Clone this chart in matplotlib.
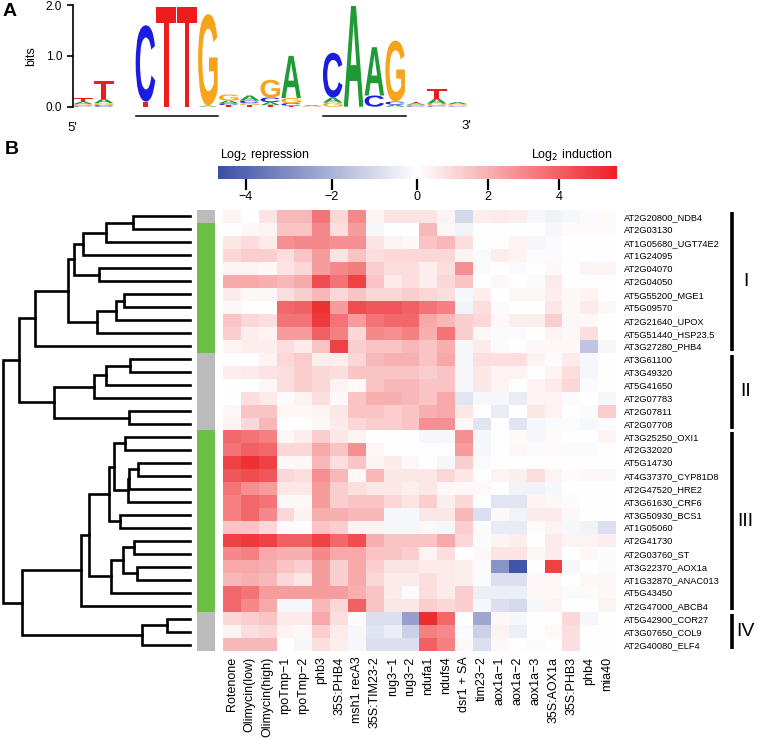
import numpy as np
import matplotlib
matplotlib.use("Agg")
import matplotlib.pyplot as plt
import matplotlib.transforms as mtrans
from matplotlib.colors import LinearSegmentedColormap, TwoSlopeNorm
from matplotlib.textpath import TextPath
from matplotlib.patches import PathPatch
from matplotlib.font_manager import FontProperties

plt.rcParams['font.family'] = ['Liberation Sans', 'DejaVu Sans']

# --- panel A: sequence logo (bits per position) ---
logo_A = [0.05, 0.08, 0, 0.00, 0.00, 0.00, 0.02, 0.05, 0.10, 0.06, 0.83, 0.02, 0.10, 1.98, 0.95, 0.04, 0.03, 0.10, 0.04]
logo_C = [0.02, 0.03, 0, 1.50, 0.00, 0.00, 0.00, 0.04, 0.05, 0.09, 0.05, 0.00, 0.88, 0.00, 0.22, 0.06, 0.02, 0.02, 0.01]
logo_G = [0.03, 0.04, 0, 0.00, 0.00, 0.00, 1.80, 0.12, 0.04, 0.35, 0.10, 0.01, 0.08, 0.00, 0.00, 1.20, 0.02, 0.04, 0.03]
logo_T = [0.07, 0.35, 0, 0.10, 1.97, 1.97, 0.00, 0.03, 0.03, 0.03, 0.02, 0.00, 0.00, 0.00, 0.00, 0.00, 0.03, 0.18, 0.01]
motif_boxes = [(4, 7), (13, 16)]

# --- panel B: heatmap ---
genes = ["AT2G20800_NDB4", "AT2G03130", "AT1G05680_UGT74E2", "AT1G24095", "AT2G04070",
         "AT2G04050", "AT5G55200_MGE1", "AT5G09570", "AT2G21640_UPOX", "AT5G51440_HSP23.5",
         "AT3G27280_PHB4", "AT3G61100", "AT3G49320", "AT5G41650", "AT2G07783", "AT2G07811",
         "AT2G07708", "AT3G25250_OXI1", "AT2G32020", "AT5G14730", "AT4G37370_CYP81D8",
         "AT2G47520_HRE2", "AT3G61630_CRF6", "AT3G50930_BCS1", "AT1G05060", "AT2G41730",
         "AT2G03760_ST", "AT3G22370_AOX1a", "AT1G32870_ANAC013", "AT5G43450",
         "AT2G47000_ABCB4", "AT5G42900_COR27", "AT3G07650_COL9", "AT2G40080_ELF4"]
conditions = ["Rotenone", "Olimycin(low)", "Olimycin(high)", "rpoTmp\u22121", "rpoTmp\u22122",
              "phb3", "35S:PHB4", "msh1 recA3", "35S:TIM23-2", "rug3\u22121", "rug3\u22122",
              "ndufa1", "ndufs4", "dsr1 + SA", "tim23\u22122", "aox1a\u22121", "aox1a\u22122",
              "aox1a\u22123", "35S:AOX1a", "35S:PHB3", "phb4", "mia40"]
expr = [
    [0.3, 0.0, 0.7, 1.8, 1.8, 3.5, 1.0, 3.0, 0.3, 0.7, 0.7, 0.7, 0.3, -1.0, 0.4, 0.5, 0.4, -0.2, -0.3, -0.2, -0.1, 0.1],
    [0.0, 0.2, 0.3, 1.5, 1.5, 3.0, 0.8, 2.5, -0.2, 0.0, 0.0, 1.8, 0.2, -0.3, 0.0, 0.0, 0.0, 0.0, -0.2, 0.1, 0.1, 0.1],
    [0.6, 0.9, 0.5, 2.8, 3.0, 3.0, 2.8, 2.8, 0.7, 0.3, 0.2, 1.5, 1.8, 0.8, 0.0, 0.0, 0.3, -0.2, -0.1, 0.0, 0.0, 0.0],
    [1.0, 1.2, 1.2, 0.8, 1.5, 2.5, 0.7, 1.5, 0.8, 1.0, 1.0, 1.0, 1.0, 0.3, -0.1, 0.4, 0.3, -0.1, -0.1, 0.0, 0.0, 0.0],
    [0.3, 0.3, 0.2, 0.7, 1.0, 2.5, 3.0, 3.3, 1.2, 0.8, 0.8, 0.4, 0.8, 2.8, -0.1, 0.0, -0.1, 0.0, 0.2, 0.0, 0.3, 0.3],
    [2.2, 2.2, 2.0, 1.8, 2.2, 4.5, 3.5, 4.8, 1.5, 0.5, 0.8, 0.4, 1.0, 1.5, 0.0, 0.2, 0.0, -0.1, 0.5, 0.0, 0.0, 0.0],
    [0.5, 0.2, 0.2, 0.8, 1.2, 1.8, 1.0, 1.5, 1.0, 1.0, 1.2, 1.0, 0.8, -0.2, 0.4, 0.0, 0.2, 0.2, 0.4, 0.2, 0.3, 0.0],
    [0.2, 0.0, 0.0, 3.8, 4.0, 5.2, 2.5, 4.5, 4.2, 4.2, 4.0, 3.5, 3.2, -0.3, 0.8, -0.1, 0.0, 0.0, 0.6, 0.2, 0.5, 0.2],
    [1.5, 1.0, 0.8, 3.5, 3.5, 5.0, 3.5, 2.5, 3.5, 3.8, 3.8, 2.2, 1.8, 1.2, 1.0, 0.2, 0.4, 0.4, 1.2, 0.2, 0.2, 0.0],
    [1.2, 0.4, 0.3, 2.5, 2.5, 4.0, 3.2, 1.0, 3.0, 2.8, 3.2, 2.0, 3.5, 1.2, 0.2, -0.1, -0.1, 0.0, 0.3, 0.2, 0.8, 0.0],
    [0.3, 0.4, 0.4, 0.8, 0.5, 1.5, 4.8, 1.2, 1.5, 1.5, 1.8, 1.5, 2.0, -0.2, 0.5, -0.1, 0.0, 0.2, 0.2, 0.2, -1.5, -0.2],
    [0.0, 0.0, 0.3, 1.0, 1.3, 0.4, 0.4, 1.0, 1.8, 2.0, 2.0, 1.5, 2.2, -0.2, 0.8, 0.8, 0.8, 0.3, -0.1, 0.5, -0.2, 0.0],
    [0.4, 0.5, 0.7, 0.8, 1.2, 1.0, 0.8, 1.5, 1.5, 1.5, 1.5, 1.2, 1.5, -0.2, 0.6, 0.3, 0.3, 0.0, 0.3, 0.8, -0.2, 0.0],
    [0.0, 0.0, 0.2, 0.8, 1.2, 1.0, 0.3, 0.1, 1.5, 1.8, 1.8, 1.5, 1.5, -0.2, 0.6, 0.3, 0.0, 0.3, 0.5, 1.0, -0.1, 0.0],
    [0.0, 0.8, 0.5, -0.1, 0.3, 0.8, 0.2, 1.5, 2.0, 2.0, 1.8, 1.5, 2.2, -0.7, -0.2, -0.2, -0.5, 0.3, 0.3, -0.1, 0.0, -0.2],
    [0.2, 1.5, 1.5, 0.2, 0.2, 0.3, 0.6, 1.5, 1.5, 1.2, 1.5, 2.0, 2.2, 0.6, 0.0, -0.5, 0.0, 0.6, 0.3, 0.0, -0.1, 1.2],
    [0.3, 1.0, 1.8, 0.0, 0.0, 0.2, 0.5, 1.0, 1.2, 1.2, 1.5, 2.8, 2.8, 0.2, -0.7, 0.0, -0.7, -0.2, -0.1, -0.1, -0.2, -0.1],
    [3.8, 3.5, 3.2, 0.2, 0.4, 1.2, 0.6, 0.3, 0.0, 0.0, 0.0, -0.2, -0.2, 2.8, -0.2, 0.0, 0.1, -0.2, 0.1, 0.0, 0.0, 0.3],
    [3.5, 4.0, 3.8, 1.0, 1.0, 2.2, 1.5, 2.8, 0.2, 0.0, 0.0, 0.0, 0.0, 2.5, -0.2, 0.0, 0.2, -0.1, 0.1, -0.1, -0.1, 0.0],
    [4.8, 5.2, 4.8, 0.2, 0.2, 1.8, 0.8, 1.5, 0.3, 0.5, 0.2, 0.0, -0.2, 1.2, -0.1, 0.0, 0.0, 0.0, 0.0, 0.0, 0.0, 0.0],
    [4.2, 4.5, 4.2, 1.0, 0.8, 2.8, 1.8, 0.2, 1.8, 0.6, 0.6, 0.6, 1.0, 0.6, 0.0, 0.3, 0.4, 0.8, 0.3, 0.1, 0.2, 0.2],
    [3.5, 2.8, 2.5, 0.6, 0.6, 2.5, 1.2, 0.8, 0.6, 0.6, 0.4, 0.6, 0.2, 0.2, 0.2, 0.0, -0.3, -0.3, -0.2, 0.0, 0.0, 0.0],
    [3.2, 3.8, 3.5, 0.2, 0.2, 2.5, 1.2, 1.5, 1.5, 1.0, 0.7, 1.2, 0.4, 1.0, 0.0, -0.7, -0.7, 0.3, 0.2, -0.1, 0.0, 0.0],
    [3.2, 3.8, 3.0, 1.0, 0.3, 2.0, 2.0, 1.8, 1.8, -0.2, -0.2, 0.6, 0.6, 1.8, -0.8, 0.2, -0.3, 0.5, 0.5, 0.2, 0.0, 0.0],
    [1.5, 1.5, 1.0, -0.1, 0.0, 1.5, 1.2, 0.3, 0.3, -0.2, -0.2, 0.2, -0.2, 1.2, -0.1, -0.5, -0.5, 0.1, 0.3, -0.2, -0.3, -0.8],
    [4.8, 5.0, 4.8, 4.0, 4.0, 4.8, 3.8, 4.5, 2.0, 1.5, 1.5, 1.5, 2.2, 1.0, -0.1, 0.3, 0.4, 0.0, 0.5, 0.3, 0.3, 0.4],
    [3.0, 3.2, 2.2, 2.0, 2.0, 3.0, 2.2, 2.2, 1.5, 1.5, 1.2, 0.3, 0.8, 0.0, 0.2, 0.7, 0.7, 0.2, 0.5, 0.0, 0.2, -0.1],
    [2.2, 2.2, 2.0, 1.5, 1.2, 2.5, 1.2, 2.2, 1.2, 0.7, 0.7, 0.5, 0.5, 0.4, -0.1, -2.8, -4.5, 0.0, 4.8, -0.2, 0.0, -0.1],
    [1.8, 2.0, 1.8, 1.0, 0.6, 2.5, 1.2, 2.2, 1.0, 0.5, 0.5, 0.8, 0.5, 0.4, -0.1, -0.8, -0.8, 0.2, 0.2, 0.0, 0.2, 0.2],
    [3.8, 3.5, 2.5, 2.5, 2.5, 2.5, 2.5, 2.0, 1.5, 0.5, -0.1, 0.8, 0.5, 1.2, -0.4, -0.4, -0.4, 0.2, 0.2, -0.1, 0.1, 0.2],
    [3.8, 3.0, 2.2, -0.2, -0.2, 1.8, 1.0, 4.0, 1.5, 0.6, 0.6, 1.2, 1.0, 1.2, -0.2, -0.8, -1.0, -0.2, 0.3, 0.0, 0.0, 0.3],
    [1.0, 1.2, 1.5, 0.5, 0.5, 2.2, 0.8, -0.1, -0.8, -0.8, -2.5, 5.3, 3.8, 0.0, -2.3, 0.2, -0.2, 0.0, 0.0, 1.0, -0.2, 0.0],
    [0.3, 0.8, 1.0, 0.3, 0.2, 1.2, 0.5, -0.2, -0.7, -0.4, -1.2, 3.2, 3.0, -0.1, -1.2, 0.3, -0.4, 0.0, 0.2, 0.8, 0.0, 0.0],
    [1.8, 1.8, 1.8, 0.0, -0.2, 0.8, 0.4, -0.2, -0.8, -0.8, -0.8, 4.0, 3.2, 0.2, -0.8, 0.2, 0.0, -0.1, 0.0, 0.8, 0.0, 0.0],
]
# side strip: 0 = grey, 1 = green
strip = [0] + [1] * 10 + [0] * 6 + [1] * 14 + [0] * 3
groups = [("I", 0, 10), ("II", 11, 16), ("III", 17, 30), ("IV", 31, 33)]

# row dendrogram as merges (child a, child b, height); ids >= 34 are earlier merges
merges = [
    (0, 1, 0.302), (34, 2, 0.448), (35, 3, 0.569), (4, 5, 0.484), (36, 37, 0.619),
    (6, 7, 0.352), (39, 8, 0.395), (40, 9, 0.498), (38, 41, 0.649), (42, 10, 0.827),
    (11, 12, 0.320), (44, 13, 0.448), (45, 14, 0.512), (15, 16, 0.327), (46, 47, 0.726),
    (43, 48, 0.911),
    (17, 18, 0.349), (19, 20, 0.278), (51, 21, 0.324), (52, 22, 0.333), (50, 53, 0.406),
    (23, 24, 0.374), (54, 55, 0.432), (25, 26, 0.297), (27, 28, 0.285), (57, 58, 0.356),
    (59, 29, 0.422), (56, 60, 0.537), (61, 30, 0.580), (31, 32, 0.125), (63, 33, 0.256),
    (62, 64, 0.897), (49, 65, 1.0),
]

W, H = 759, 739
fig = plt.figure(figsize=(W / 100, H / 100), dpi=100)


def box(l, t, r, b):
    return [l / W, 1 - b / H, (r - l) / W, (b - t) / H]


# ---------- A ----------
letter_col = {'A': '#1f9a36', 'C': '#1c1ce0', 'G': '#f7a41d', 'T': '#ee1c1c'}
fp = FontProperties(family='Liberation Sans', weight='bold')


def draw_letter(ax, ch, x0, y0, w, h, color):
    tp = TextPath((0, 0), ch, size=1, prop=fp)
    bb = tp.get_extents()
    tr = mtrans.Affine2D().translate(-bb.x0, -bb.y0).scale(w / bb.width, h / bb.height).translate(x0, y0)
    ax.add_patch(PathPatch(tr.transform_path(tp), fc=color, ec='none', lw=0))


axl = fig.add_axes(box(72.6, 5, 468, 106.7))
heights = {'A': logo_A, 'C': logo_C, 'G': logo_G, 'T': logo_T}
for i in range(len(logo_A)):
    stack = sorted([(heights[k][i], k) for k in 'ACGT'])
    y = 0
    for h, k in stack:
        if h <= 0:
            continue
        draw_letter(axl, k, i + 1 - 0.47, y, 0.94, h, letter_col[k])
        y += h
axl.set_xlim(0.5, len(logo_A) + 0.5)
axl.set_ylim(0, 2)
for s in ['top', 'right', 'bottom']:
    axl.spines[s].set_visible(False)
axl.spines['left'].set_linewidth(1.2)
axl.set_xticks([])
axl.set_yticks([0, 1, 2])
axl.set_yticklabels(["0.0", "1.0", "2.0"], fontsize=8.5)
axl.tick_params(axis='y', length=4, width=1.2)
axl.set_ylabel("bits", fontsize=9, labelpad=6)
for a, b in motif_boxes:
    axl.plot([a - 0.45, b + 0.5], [-0.18, -0.18], color='black', lw=1.1, clip_on=False)
axl.text(0.5, -0.42, "5'", fontsize=9.5, ha='center', va='center', clip_on=False)
axl.text(19.4, -0.38, "3'", fontsize=9.5, ha='center', va='center', clip_on=False)
fig.text(3 / W, 1 - 12 / H, "A", fontsize=14, fontweight='bold', va='center')

# ---------- B ----------
fig.text(5 / W, 1 - 150 / H, "B", fontsize=14, fontweight='bold', va='center')

cmap = LinearSegmentedColormap.from_list('bwr2', ['#3b4fa5', '#ffffff', '#ec2024'])
norm = TwoSlopeNorm(vmin=-4.65, vcenter=0, vmax=5.65)
data = np.array(expr)
nr, nc = data.shape

axh = fig.add_axes(box(223, 210, 616, 651))
axh.imshow(data, cmap=cmap, norm=norm, aspect='auto', interpolation='nearest')
for s in axh.spines.values():
    s.set_visible(False)
axh.set_xticks(range(nc))
axh.set_xticklabels(conditions, rotation=90, fontsize=9)
axh.yaxis.tick_right()
axh.set_yticks(range(nr))
axh.set_yticklabels(genes, fontsize=6.7)
axh.tick_params(axis='both', length=0)
axh.tick_params(axis='x', pad=4)
axh.tick_params(axis='y', pad=6)

trb = mtrans.blended_transform_factory(axh.transAxes, axh.transData)
for name, r0, r1 in groups:
    axh.plot([1.295, 1.295], [r0 - 0.5 + 0.15, r1 + 0.5 - 0.15], color='black', lw=2.6,
             transform=trb, clip_on=False, solid_capstyle='butt')
    axh.text(1.33, (r0 + r1) / 2, name, transform=trb, fontsize=14, ha='center', va='center')

# side strip
axs = fig.add_axes(box(197, 210, 215, 651))
strip_cmap = LinearSegmentedColormap.from_list('strip', ['#bcbcbc', '#6bbf45'])
axs.imshow(np.array(strip)[:, None], cmap=strip_cmap, vmin=0, vmax=1, aspect='auto', interpolation='nearest')
axs.axis('off')

# dendrogram
axd = fig.add_axes(box(2.7, 210, 190, 651))
pos = {i: (float(i), 0.0) for i in range(nr)}
for k, (a, b, h) in enumerate(merges):
    ya, ha = pos[a]
    yb, hb = pos[b]
    axd.plot([ha, h, h, hb], [ya, ya, yb, yb], color='black', lw=1.9, clip_on=False,
             solid_joinstyle='miter')
    pos[nr + k] = ((ya + yb) / 2, h)
axd.set_xlim(1.0, 0.0)
axd.set_ylim(nr - 0.5, -0.5)
axd.axis('off')

# colorbar
axc = fig.add_axes(box(218, 166, 617, 179))
sm = matplotlib.cm.ScalarMappable(norm=norm, cmap=cmap)
cb = fig.colorbar(sm, cax=axc, orientation='horizontal')
cb.outline.set_visible(False)
cb.set_ticks([-4, -2, 0, 2, 4])
axc.tick_params(length=8, width=1.6, labelsize=9, pad=1)
axc.xaxis.set_ticks_position('bottom')
fig.text(220 / W, 1 - 155 / H, "Log$_2$ repression", fontsize=9, va='center', ha='left')
fig.text(613 / W, 1 - 155 / H, "Log$_2$ induction", fontsize=9, va='center', ha='right')

fig.savefig("out.png", dpi=100)
